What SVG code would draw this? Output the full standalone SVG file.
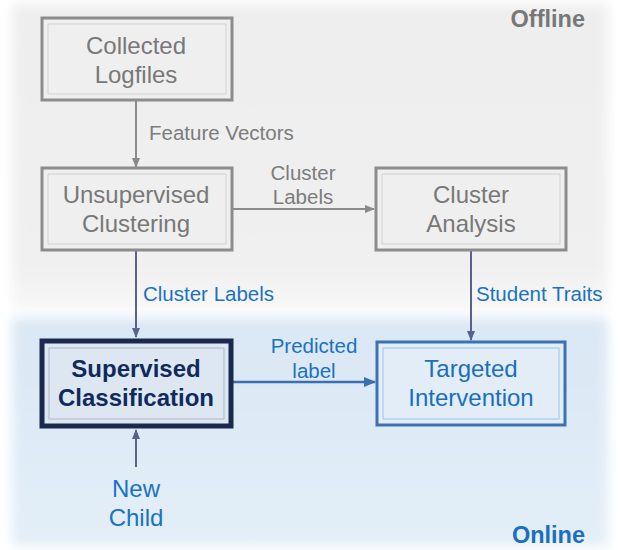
<svg xmlns="http://www.w3.org/2000/svg" width="620" height="550" viewBox="0 0 620 550">
  <defs>
    <filter id="soft" x="-10%" y="-10%" width="120%" height="120%">
      <feGaussianBlur stdDeviation="6"/>
    </filter>
    <linearGradient id="offGrad" x1="0" y1="0" x2="0" y2="1">
      <stop offset="0" stop-color="#eeeeee"/>
      <stop offset="0.85" stop-color="#f0f0f0"/>
      <stop offset="1" stop-color="#f7f7f7"/>
    </linearGradient>
    <linearGradient id="onGrad" x1="0" y1="0" x2="0" y2="1">
      <stop offset="0" stop-color="#dae7f4"/>
      <stop offset="1" stop-color="#e3eef8"/>
    </linearGradient>
    <marker id="arrGray" viewBox="0 0 10 10" refX="9" refY="5" markerWidth="5" markerHeight="5" orient="auto">
      <path d="M0,1 L10,5 L0,9 z" fill="#8a8a8a"/>
    </marker>
    <marker id="arrSlate" viewBox="0 0 10 10" refX="9" refY="5" markerWidth="5" markerHeight="5" orient="auto">
      <path d="M0,1 L10,5 L0,9 z" fill="#58628a"/>
    </marker>
    <marker id="arrBlue" viewBox="0 0 10 10" refX="9" refY="5" markerWidth="5" markerHeight="5" orient="auto">
      <path d="M0,1 L10,5 L0,9 z" fill="#3a70b0"/>
    </marker>
  </defs>
  <style>
    text { font-family: "Liberation Sans", Arial, sans-serif; text-anchor: middle; }
    .node { font-size: 24px; fill: #787878; }
    .lbl { font-size: 20.5px; }
    .lblGray { fill: #7c7c7c; }
    .lblBlue { fill: #1a72c4; }
    .zone { font-size: 23.5px; font-weight: bold; text-anchor: end; }
    .boxOff { fill: #efefef; stroke: #8c8c8c; stroke-width: 3; }
    .boxOffIn { fill: none; stroke: #d2d2d2; stroke-width: 1; }
  </style>

  <rect width="620" height="550" fill="#ffffff"/>

  <!-- zone backgrounds -->
  <g id="zones">
    <rect x="12" y="4" width="596" height="306" fill="url(#offGrad)" filter="url(#soft)"/>
    <rect x="12" y="318" width="596" height="228" fill="url(#onGrad)" filter="url(#soft)"/>
    <text class="zone" x="585" y="27" fill="#777777">Offline</text>
    <text class="zone" x="585" y="543" fill="#1a6fc0">Online</text>
  </g>

  <!-- connectors -->
  <g id="connectors" fill="none">
    <line x1="136" y1="100" x2="136" y2="167" stroke="#8a8a8a" stroke-width="2" marker-end="url(#arrGray)"/>
    <line x1="232" y1="209" x2="374" y2="209" stroke="#8a8a8a" stroke-width="2" marker-end="url(#arrGray)"/>
    <line x1="136" y1="251" x2="136" y2="337" stroke="#58628a" stroke-width="2" marker-end="url(#arrSlate)"/>
    <line x1="471" y1="251" x2="471" y2="340" stroke="#58628a" stroke-width="2" marker-end="url(#arrSlate)"/>
    <line x1="233" y1="382" x2="375" y2="382" stroke="#3a70b0" stroke-width="2.5" marker-end="url(#arrBlue)"/>
    <line x1="136" y1="467" x2="136" y2="430" stroke="#58628a" stroke-width="2" marker-end="url(#arrSlate)"/>

    <text class="lbl lblGray" x="149" y="140" style="text-anchor:start">Feature Vectors</text>
    <text class="lbl lblGray" x="303" y="180">Cluster</text>
    <text class="lbl lblGray" x="303" y="204">Labels</text>
    <text class="lbl lblBlue" x="143" y="301" style="text-anchor:start">Cluster Labels</text>
    <text class="lbl lblBlue" x="476" y="301" style="text-anchor:start">Student Traits</text>
    <text class="lbl lblBlue" x="314" y="353">Predicted</text>
    <text class="lbl lblBlue" x="314" y="378">label</text>
  </g>

  <g id="collected-logfiles">
    <rect class="boxOff" x="42" y="18" width="190" height="82"/>
    <rect class="boxOffIn" x="48" y="24" width="178" height="70"/>
    <text class="node" x="136" y="54">Collected</text>
    <text class="node" x="136" y="83">Logfiles</text>
  </g>

  <g id="unsupervised-clustering">
    <rect class="boxOff" x="42" y="168" width="190" height="82"/>
    <rect class="boxOffIn" x="48" y="174" width="178" height="70"/>
    <text class="node" x="136" y="203">Unsupervised</text>
    <text class="node" x="136" y="232">Clustering</text>
  </g>

  <g id="cluster-analysis">
    <rect class="boxOff" x="376" y="168" width="190" height="82"/>
    <rect class="boxOffIn" x="382" y="174" width="178" height="70"/>
    <text class="node" x="471" y="203">Cluster</text>
    <text class="node" x="471" y="232">Analysis</text>
  </g>

  <g id="supervised-classification">
    <rect x="42" y="341" width="189" height="85" fill="#dde7f2" stroke="#1b2a4c" stroke-width="5"/>
    <rect x="49" y="348" width="175" height="71" fill="none" stroke="#a9b8cc" stroke-width="1"/>
    <text class="node" x="136" y="377" style="font-weight:bold;fill:#102a5e">Supervised</text>
    <text class="node" x="136" y="406" style="font-weight:bold;fill:#102a5e">Classification</text>
  </g>

  <g id="targeted-intervention">
    <rect x="377" y="342" width="188" height="83" fill="#e3edf8" stroke="#3a72b4" stroke-width="3"/>
    <rect x="383" y="348" width="176" height="71" fill="none" stroke="#9cc2e8" stroke-width="1"/>
    <text class="node" x="471" y="377" style="fill:#1a6fc0">Targeted</text>
    <text class="node" x="471" y="406" style="fill:#1a6fc0">Intervention</text>
  </g>

  <g id="new-child">
    <text class="node" x="136" y="497" style="fill:#1a72c4">New</text>
    <text class="node" x="136" y="526" style="fill:#1a72c4">Child</text>
  </g>
</svg>
